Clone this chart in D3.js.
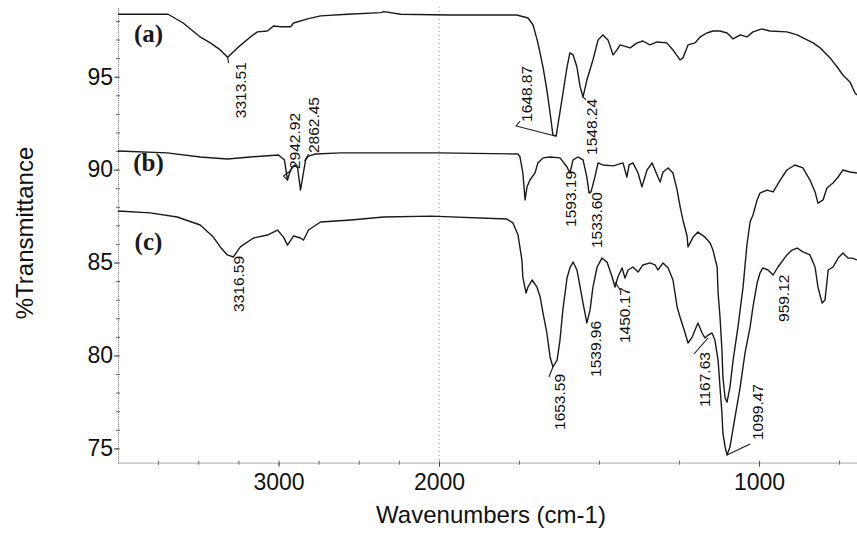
<!DOCTYPE html>
<html>
<head>
<meta charset="utf-8">
<script src="https://cdn.jsdelivr.net/npm/d3@7"></script>
<style>
  body { margin: 0; background: #fff; }
  svg { display: block; }
</style>
</head>
<body>
<svg class="viz" width="857" height="533"></svg>
<script>
// spectra: [wavenumber (cm-1), %T]
var specA = [
  [4000, 98.36], [3688, 98.36], [3594, 97.89], [3488, 97.14], [3425, 96.82], [3363, 96.44],
  [3317, 96.05], [3256, 96.55], [3175, 97.14], [3131, 97.41], [3069, 97.46], [3031, 97.73],
  [2988, 97.69], [2925, 97.69], [2906, 97.89], [2819, 98.11], [2738, 98.27], [2569, 98.36],
  [2363, 98.45], [2344, 98.50], [2238, 98.36], [1966, 98.32], [1757, 98.32], [1722, 98.16],
  [1706, 97.78], [1691, 96.82], [1675, 95.52], [1663, 94.29], [1653, 93.05], [1644, 91.86],
  [1634, 91.81], [1631, 92.13], [1616, 93.75], [1600, 95.52], [1591, 96.28], [1581, 96.17],
  [1569, 95.52], [1559, 94.45], [1550, 93.91], [1538, 94.82], [1519, 95.90], [1503, 96.98],
  [1488, 97.25], [1472, 96.98], [1456, 96.17], [1444, 96.44], [1434, 96.71], [1403, 96.55],
  [1381, 96.82], [1363, 96.92], [1341, 96.71], [1319, 96.87], [1288, 96.82], [1269, 96.44],
  [1247, 95.90], [1238, 96.01], [1222, 96.71], [1200, 96.82], [1184, 97.14], [1163, 97.35],
  [1144, 97.46], [1122, 97.46], [1100, 97.35], [1081, 97.03], [1059, 97.25], [1038, 97.14],
  [1019, 97.41], [991, 97.57], [966, 97.46], [913, 97.41], [881, 97.25], [850, 96.98],
  [831, 96.82], [809, 96.55], [778, 96.01], [756, 95.52], [738, 95.09], [716, 94.72],
  [700, 94.12], [694, 94.02]
];

var specB = [
  [4000, 91.00], [3694, 90.90], [3488, 90.68], [3319, 90.57], [3175, 90.68], [3000, 90.79],
  [2963, 90.52], [2944, 89.44], [2925, 89.98], [2900, 90.25], [2881, 90.09], [2863, 88.90],
  [2850, 89.55], [2831, 90.52], [2813, 90.73], [2769, 90.84], [2613, 90.90], [2000, 90.90],
  [1753, 90.84], [1747, 90.68], [1738, 89.82], [1731, 88.37], [1725, 89.07], [1716, 89.44],
  [1700, 89.82], [1691, 90.36], [1675, 90.63], [1653, 90.68], [1622, 90.63], [1600, 90.14],
  [1591, 89.82], [1581, 90.52], [1566, 90.68], [1550, 90.52], [1538, 89.60], [1531, 88.74],
  [1525, 88.80], [1513, 89.60], [1503, 90.36], [1488, 90.25], [1456, 90.20], [1425, 90.36],
  [1413, 89.60], [1406, 90.25], [1394, 90.36], [1378, 89.82], [1366, 89.07], [1350, 89.98],
  [1334, 90.36], [1316, 89.60], [1309, 89.33], [1300, 89.87], [1284, 90.09], [1269, 89.82],
  [1256, 88.90], [1247, 88.04], [1238, 87.29], [1225, 86.43], [1222, 85.84], [1206, 86.37],
  [1191, 86.64], [1169, 86.37], [1153, 86.05], [1144, 85.67], [1131, 84.76], [1128, 83.36],
  [1122, 82.07], [1116, 80.29], [1113, 78.84], [1106, 77.71], [1100, 77.49], [1091, 78.30],
  [1081, 79.75], [1066, 81.53], [1050, 83.68], [1038, 85.94], [1028, 87.18], [1019, 87.56],
  [1006, 88.37], [997, 88.74], [975, 88.90], [956, 88.80], [934, 89.44], [913, 89.98],
  [888, 90.25], [863, 90.09], [841, 89.44], [825, 88.80], [816, 88.20], [800, 88.37],
  [788, 89.01], [769, 89.28], [753, 89.60], [738, 89.98], [716, 89.87], [694, 89.82]
];

var specC = [
  [4000, 87.77], [3800, 87.67], [3631, 87.45], [3488, 87.02], [3406, 86.37], [3363, 85.84],
  [3319, 85.41], [3281, 85.30], [3238, 85.84], [3156, 86.32], [3069, 86.48], [3006, 86.75],
  [2969, 86.37], [2944, 85.94], [2906, 86.43], [2863, 86.32], [2844, 86.21], [2813, 86.75],
  [2738, 87.18], [2550, 87.29], [2344, 87.45], [2050, 87.50], [1788, 87.34], [1769, 87.13],
  [1753, 86.48], [1741, 85.14], [1738, 84.22], [1728, 83.36], [1722, 83.68], [1709, 84.06],
  [1694, 83.68], [1684, 83.15], [1675, 82.28], [1663, 81.21], [1653, 79.92], [1644, 79.38],
  [1631, 79.75], [1622, 80.83], [1613, 82.45], [1600, 84.17], [1591, 84.71], [1581, 85.03],
  [1569, 84.60], [1559, 83.68], [1550, 82.82], [1538, 81.75], [1528, 82.45], [1519, 83.68],
  [1506, 84.76], [1491, 85.24], [1475, 85.03], [1459, 84.22], [1450, 83.68], [1441, 84.22],
  [1428, 84.71], [1419, 84.17], [1409, 84.60], [1394, 84.76], [1378, 84.49], [1363, 84.87],
  [1341, 84.98], [1325, 84.87], [1316, 84.60], [1300, 84.98], [1284, 84.71], [1269, 84.06],
  [1256, 82.61], [1247, 82.07], [1231, 81.21], [1222, 80.67], [1209, 80.99], [1200, 81.37],
  [1191, 81.75], [1178, 81.21], [1169, 80.94], [1159, 81.10], [1147, 81.21], [1138, 80.83],
  [1128, 79.75], [1122, 78.30], [1116, 76.90], [1113, 75.83], [1106, 75.07], [1100, 74.64],
  [1091, 75.07], [1075, 76.69], [1059, 78.30], [1044, 80.13], [1028, 81.53], [1019, 82.61],
  [1006, 83.90], [997, 84.44], [988, 84.71], [972, 84.60], [956, 84.33], [941, 84.76],
  [913, 85.41], [897, 85.67], [881, 85.78], [863, 85.57], [841, 85.41], [825, 84.76],
  [816, 83.68], [803, 82.82], [794, 82.98], [784, 84.60], [769, 84.76], [753, 85.24],
  [738, 85.51], [722, 85.24], [709, 85.24], [694, 85.14]
];

var seriesNames = ["(a)", "(b)", "(c)"];
// where each series name sits: [wavenumber, %T]
var namePos = [[3810, 96.85], [3810, 89.95], [3810, 85.65]];

var yTicks = [75, 80, 85, 90, 95];
var xTicks = [3000, 2000, 1000];

// peak labels: [text, wavenumber, %T]
var peaks = [
  ["3313.51", 3317, 96.05], ["2942.92", 2944, 89.44], ["2862.45", 2863, 88.90],
  ["1648.87", 1634, 91.81], ["1548.24", 1550, 93.91], ["1593.19", 1591, 89.82],
  ["1533.60", 1528, 88.74], ["3316.59", 3281, 85.30], ["1653.59", 1644, 79.38],
  ["1539.96", 1538, 81.75], ["1450.17", 1450, 83.68], ["1167.63", 1169, 80.94],
  ["1099.47", 1100, 74.64], ["959.12", 956, 84.33]
];

// label placement in px relative to the peak: text centre/bottom and leader line
var peakLayout = [
  {dx: 13, dy: 61, lead: [[0, 0], [1, 6]]},
  {dx: 7, dy: -11, lead: [[0, 0], [-4, -4], [4, -10]]},
  {dx: 13, dy: -37, lead: [[4, -29], [8, -36]]},
  {dx: -30, dy: -14, lead: [[-1, 0], [-40, -10], [-36, -15]]},
  {dx: 8, dy: 58, lead: [[0, 0], [3, 3]]},
  {dx: 1, dy: 54, lead: []},
  {dx: 6.5, dy: 55, lead: []},
  {dx: 5.5, dy: 55, lead: []},
  {dx: 6, dy: 63, lead: [[0, 0], [-4, 10]]},
  {dx: 8.5, dy: 54, lead: []},
  {dx: 9, dy: 56, lead: [[0, -5], [5, 3]]},
  {dx: -1, dy: 69, lead: [[3, 0], [-11, 16]]},
  {dx: 30, dy: -15, lead: [[0, 0], [23, -11]]},
  {dx: 10, dy: 47, lead: []}
];

var svg = d3.select(".viz"),
    margin = {top: 7, right: 0, bottom: 70.3, left: 118},
    width = +svg.attr("width") - margin.left - margin.right,
    height = +svg.attr("height") - margin.top - margin.bottom;

var g = svg.append("g")
    .attr("transform", "translate(" + margin.left + "," + margin.top + ")");

// OMNIC style: the region above 2000 cm-1 is compressed by half
var x = d3.scaleLinear()
    .domain([4000, 2000, 694])
    .range([0, 321, width]);

var y = d3.scaleLinear()
    .domain([74.23, 98.75])
    .range([height, 0]);

var sans = "'Liberation Sans', Arial, sans-serif";

// dotted marker at 2000
g.append("line")
    .attr("x1", x(2000)).attr("x2", x(2000))
    .attr("y1", 0).attr("y2", height)
    .style("stroke", "#9a9a9a")
    .style("stroke-width", 1)
    .style("stroke-dasharray", "1,3");

// minor ticks
g.append("g")
    .call(d3.axisLeft(y).tickValues(d3.range(75, 99)).tickSize(2).tickSizeOuter(0).tickFormat(""))
    .call(function(a) {
      a.select(".domain").remove();
      a.selectAll("line").attr("x1", 2).style("stroke", "#666");
    });

g.append("g")
    .attr("transform", "translate(0," + height + ")")
    .call(d3.axisBottom(x).tickValues(d3.range(3750, 700, -250)).tickSize(2).tickSizeOuter(0).tickFormat(""))
    .call(function(a) {
      a.select(".domain").remove();
      a.selectAll("line").attr("y1", -2).style("stroke", "#666");
    });

// main axes
var yAxis = g.append("g")
    .call(d3.axisLeft(y).tickValues(yTicks).tickSize(4).tickSizeOuter(0).tickPadding(1));

var xAxis = g.append("g")
    .attr("transform", "translate(0," + height + ")")
    .call(d3.axisBottom(x).tickValues(xTicks).tickFormat(d3.format("d"))
      .tickSize(4).tickSizeOuter(0).tickPadding(7));

[yAxis, xAxis].forEach(function(a) {
  a.select(".domain")
      .style("stroke", "#777")
      .style("stroke-width", 1.2)
      .style("stroke-dasharray", "1,1");
  a.selectAll(".tick line").style("stroke", "#444");
  a.selectAll(".tick text")
      .attr("font-family", sans)
      .attr("font-size", "23px")
      .attr("fill", "#111");
});

// spectra
var line = d3.line()
    .x(function(d) { return x(d[0]); })
    .y(function(d) { return y(d[1]); });

[specA, specB, specC].forEach(function(s) {
  g.append("path")
      .datum(s)
      .attr("d", line)
      .style("fill", "none")
      .style("stroke", "#1a1a1a")
      .style("stroke-width", 1.4)
      .style("stroke-linejoin", "round");
});

// series names
g.selectAll(".sname")
    .data(seriesNames)
    .enter().append("text")
    .attr("class", "sname")
    .attr("x", function(d, i) { return x(namePos[i][0]); })
    .attr("y", function(d, i) { return y(namePos[i][1]); })
    .attr("text-anchor", "middle")
    .attr("font-family", "'Liberation Serif', 'Times New Roman', serif")
    .attr("font-size", "25px")
    .attr("font-weight", "bold")
    .attr("fill", "#1a1a1a")
    .text(function(d) { return d; });

// peak labels
peaks.forEach(function(p, i) {
  var px = x(p[1]), py = y(p[2]), L = peakLayout[i];
  if (L.lead.length) {
    g.append("path")
        .attr("d", "M" + L.lead.map(function(q) { return [px + q[0], py + q[1]]; }).join("L"))
        .style("fill", "none")
        .style("stroke", "#1a1a1a")
        .style("stroke-width", 1.1);
  }
  g.append("text")
      .attr("transform", "translate(" + (px + L.dx) + "," + (py + L.dy) + ") rotate(-90)")
      .attr("dy", "0.36em")
      .attr("font-family", sans)
      .attr("font-size", "15.5px")
      .attr("fill", "#111")
      .text(p[0]);
});

// axis titles
svg.append("text")
    .attr("x", 491)
    .attr("y", 523)
    .attr("text-anchor", "middle")
    .attr("font-family", sans)
    .attr("font-size", "24px")
    .attr("fill", "#111")
    .text("Wavenumbers (cm-1)");

svg.append("text")
    .attr("transform", "translate(33,233) rotate(-90)")
    .attr("text-anchor", "middle")
    .attr("font-family", sans)
    .attr("font-size", "24px")
    .attr("fill", "#111")
    .text("%Transmittance");
</script>
</body>
</html>
